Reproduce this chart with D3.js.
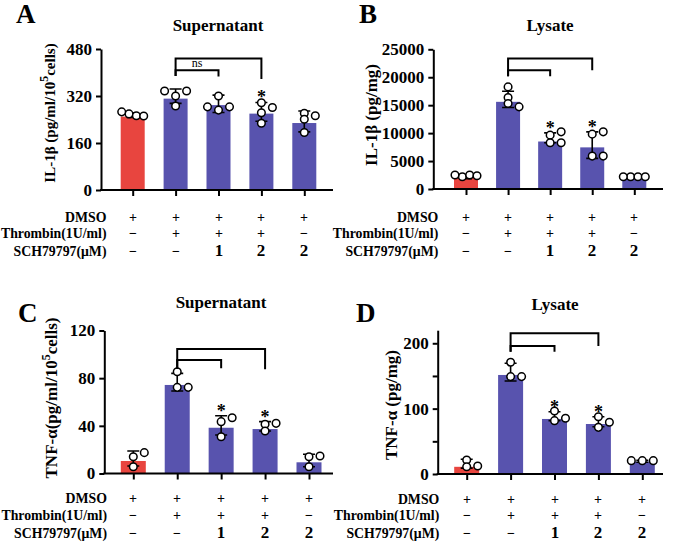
<!DOCTYPE html>
<html><head><meta charset="utf-8">
<script src="https://cdn.jsdelivr.net/npm/d3@7"></script>
<style>
body{margin:0;background:#fff}
svg{display:block}
text{font-family:"Liberation Serif","Times New Roman",serif;font-weight:bold;fill:#000}
</style>
</head><body><svg id="c" width="673" height="542"></svg>
<script>
// ---------- data ----------
const groups = ["G1","G2","G3","G4","G5"];
const rowLabels = ["DMSO","Thrombin(1U/ml)","SCH79797(μM)"];
const dmsoRow = ["+","+","+","+","+"];
const thrombinRow = ["−","+","+","+","−"];
const schRow = ["−","−","1","2","2"];

// A: IL-1β supernatant
const aBars = [250, 311, 289, 260, 228];
const aErrLow = [247, 295, 264, 234, 198];
const aErrHigh = [263, 344, 323, 298, 269];
const aPoints = [[259,253,266,252],[320,286,337,337],[320,272,283,283],[297,281,263,227],[261,253,241,196]];
const aStars = ["","","","*",""];
const aTicks = [0,160,320,480];
const aBrackets = [{from:1,to:3,top:448,lb:388,rb:378,label:""},{from:1,to:2,top:408,lb:388,rb:386,label:"ns"}];

// B: IL-1β lysate
const bBars = [2020, 15600, 8500, 7450, 2100];
const bErrLow = [1850, 14590, 8270, 5480, 2000];
const bErrHigh = [2400, 17500, 10050, 10230, 2300];
const bPoints = [[2200,2500,2500,2380],[18270,16380,15300,14700],[9640,10230,8270,8270],[9820,10230,5890,5890],[2200,2200,2200,2200]];
const bStars = ["","","*","*",""];
const bTicks = [0,5000,10000,15000,20000,25000];
const bBrackets = [{from:1,to:3,top:23340,lb:20180,rb:21250,label:""},{from:1,to:2,top:21250,lb:20180,rb:20180,label:""}];

// C: TNF-α supernatant
const cBars = [10.5, 74.3, 38.4, 37.3, 9.4];
const cErrLow = [6.3, 69.2, 32.3, 35.7, 5.7];
const cErrHigh = [18.9, 84, 48.5, 43.5, 16.1];
const cPoints = [[14.1,17.5,5.7],[85.4,72.3,72.3],[43.5,46.8,30.9],[41.3,42.1,35.7],[14.1,14.7,5.7]];
const cStars = ["","","*","*",""];
const cTicks = [0,40,80,120];
const cBrackets = [{from:1,to:3,top:104.5,lb:87.7,rb:87.4,label:""},{from:1,to:2,top:95.2,lb:87.7,rb:88.3,label:""}];

// D: TNF-α lysate
const dBars = [11, 151.5, 84.2, 76.5, 19];
const dErrLow = [9, 142.3, 81.6, 72.4, 18];
const dErrHigh = [22.5, 169.4, 95.3, 87.7, 21];
const dPoints = [[21.4,11.2,12.2],[171,149,149],[96.4,81.6,85.2],[87.7,71.4,79.1],[20.4,20.4,20.4]];
const dStars = ["","","*","*",""];
const dTicks = [0,50,100,150,200];
const dTickLabels = [0,100,200];
const dBrackets = [{from:1,to:3,top:215.3,lb:187.1,rb:195.8,label:""},{from:1,to:2,top:195.8,lb:187.1,rb:187.1,label:""}];

// ---------- drawing ----------
const svg = d3.select("#c");
const RED = "#e8453f", BLUE = "#5853ae";

function layoutPoints(vals, y, s, thr){
  const placed = [];
  const order = [0,1,-1,2,-2,3,-3];
  vals.forEach(v=>{
    const py = y(v);
    const slot = order.find(sl=>placed.every(p=>p.slot!==sl || Math.abs(p.py-py)>=thr));
    placed.push({v, py, slot});
  });
  const mn = d3.min(placed,p=>p.slot), mx = d3.max(placed,p=>p.slot);
  let shift = 0, scale = 1;
  if (mx-mn > 2){ shift = -(mn+mx)/2; scale = 2/(mx-mn); }
  return placed.map(p=>({py:p.py, dx:(p.slot+shift)*scale*s}));
}

function panel(cfg){
  const g = svg.append("g");
  const x = d3.scalePoint().domain(groups).range(cfg.cx);
  const y = d3.scaleLinear().domain([0,cfg.max]).range([cfg.y0, cfg.yTop]);
  const cx = i => x(groups[i]);

  // bars
  g.selectAll("rect.bar").data(cfg.bars).join("rect").attr("class","bar")
    .attr("x",(d,i)=>cx(i)-cfg.bw/2).attr("y",d=>y(d))
    .attr("width",cfg.bw).attr("height",d=>y(0)-y(d))
    .attr("fill",(d,i)=>i===0?RED:BLUE);

  // error bars
  const eb = g.append("g").attr("stroke","#000").attr("stroke-width",1.6).attr("fill","none");
  cfg.bars.forEach((d,i)=>{
    const lo = y(cfg.lo[i]), hi = y(cfg.hi[i]), c = cx(i);
    eb.append("path").attr("d",`M${c},${lo}V${hi}M${c-6},${hi}H${c+6}M${c-6},${lo}H${c+6}`);
  });

  // points
  cfg.points.forEach((vals,i)=>{
    const pts = layoutPoints(vals, y, 11, 5.5);
    g.selectAll(null).data(pts).join("circle")
      .attr("cx",p=>cx(i)+p.dx).attr("cy",p=>p.py).attr("r",3.8)
      .attr("fill","#fff").attr("stroke","#000").attr("stroke-width",1.5);
  });

  // stars
  g.selectAll("text.star").data(cfg.stars).join("text").attr("class","star")
    .attr("x",(d,i)=>cx(i)).attr("y",(d,i)=>y(cfg.hi[i])+1)
    .attr("text-anchor","middle").attr("font-size",18).text(d=>d);

  // brackets
  cfg.brackets.forEach(b=>{
    const x1 = cx(b.from), x2 = cx(b.to);
    g.append("path").attr("fill","none").attr("stroke","#000").attr("stroke-width",2)
      .attr("d",`M${x1},${y(b.lb)}V${y(b.top)}H${x2}V${y(b.rb)}`);
    if (b.label) g.append("text").attr("x",(x1+x2)/2).attr("y",y(b.top)-3.5)
      .attr("text-anchor","middle").attr("font-size",12).style("font-weight","normal").text(b.label);
  });

  // y axis
  const ya = g.append("g").attr("transform",`translate(${cfg.axisX},0)`)
    .call(d3.axisLeft(y).tickValues(cfg.ticks).tickSize(5).tickSizeOuter(0).tickPadding(4)
      .tickFormat(d=>cfg.tickLabels.includes(d)?d:""));
  ya.attr("font-size",17);
  ya.selectAll("path,line").attr("stroke","#000").attr("stroke-width",2);

  // x axis
  const xa = g.append("g").attr("transform",`translate(0,${cfg.y0})`)
    .call(d3.axisBottom(x).tickSize(6).tickFormat(""));
  xa.select(".domain").remove();
  xa.selectAll("line").attr("stroke","#000").attr("stroke-width",2);
  g.append("line").attr("x1",cfg.axisX-1).attr("x2",cfg.axisRight).attr("y1",cfg.y0).attr("y2",cfg.y0)
    .attr("stroke","#000").attr("stroke-width",2);

  // title, letter
  g.append("text").attr("x",cfg.title[1]).attr("y",cfg.title[2]).attr("text-anchor","middle")
    .attr("font-size",17).text(cfg.title[0]);
  g.append("text").attr("x",cfg.letter[1]).attr("y",cfg.letter[2]).attr("font-size",27).text(cfg.letter[0]);

  // y label
  const yl = g.append("text").attr("text-anchor","middle").attr("font-size",cfg.ylabSize)
    .attr("transform",`translate(${cfg.ylab[0]},${cfg.ylab[1]}) rotate(-90)`);
  cfg.ylabel.forEach(part=>{
    const t = yl.append("tspan").text(part.t);
    if (part.sup) t.attr("font-size",12).attr("dy",-7);
    else if (part.after) t.attr("dy",7);
  });

  // rows below
  const rows = [dmsoRow, thrombinRow, schRow];
  rows.forEach((row,r)=>{
    g.append("text").attr("x",cfg.rowRight).attr("y",cfg.rowY[r]).attr("text-anchor","end")
      .attr("font-size",13.8).style("fill","#000").text(rowLabels[r]);
    g.selectAll(null).data(row).join("text")
      .attr("x",(d,i)=>Math.round(cx(i))).attr("y",cfg.rowY[r]).attr("text-anchor","middle")
      .attr("font-size",d=>(d==="1"||d==="2")?17:14).style("fill","#000").text(d=>d);
  });
}

panel({bars:aBars, lo:aErrLow, hi:aErrHigh, points:aPoints, stars:aStars, brackets:aBrackets,
  ticks:aTicks, tickLabels:aTicks, max:480, y0:190, yTop:49, cx:[132.7,304.3], bw:24,
  axisX:101, axisRight:333, title:["Supernatant",218,31], letter:["A",16,23],
  ylab:[55,113], ylabSize:15, ylabel:[{t:"IL-1β (pg/ml/10"},{t:"5",sup:true},{t:"cells)",after:true}],
  rowRight:106.5, rowY:[221.7,237.7,256]});

panel({bars:bBars, lo:bErrLow, hi:bErrHigh, points:bPoints, stars:bStars, brackets:bBrackets,
  ticks:bTicks, tickLabels:bTicks, max:25000, y0:189, yTop:49.3, cx:[466,634.3], bw:24,
  axisX:433.3, axisRight:663, title:["Lysate",550,31], letter:["B",359,23],
  ylab:[377,115], ylabSize:17, ylabel:[{t:"IL-1β (pg/mg)"}],
  rowRight:438.3, rowY:[221.7,237.7,256]});

panel({bars:cBars, lo:cErrLow, hi:cErrHigh, points:cPoints, stars:cStars, brackets:cBrackets,
  ticks:cTicks, tickLabels:cTicks, max:120, y0:473.5, yTop:330.5, cx:[133.3,309], bw:25,
  axisX:104.3, axisRight:333, title:["Supernatant",221,308], letter:["C",18,322],
  ylab:[57,398], ylabSize:17, ylabel:[{t:"TNF-α(pg/ml/10"},{t:"5",sup:true},{t:"cells)",after:true}],
  rowRight:107, rowY:[503.3,520,538]});

panel({bars:dBars, lo:dErrLow, hi:dErrHigh, points:dPoints, stars:dStars, brackets:dBrackets,
  ticks:dTicks, tickLabels:dTickLabels, max:220, y0:474, yTop:330.2, cx:[466.7,642.3], bw:25,
  axisX:437.7, axisRight:663, title:["Lysate",555,310], letter:["D",356,322],
  ylab:[397,405], ylabSize:17, ylabel:[{t:"TNF-α (pg/mg)"}],
  rowRight:439.3, rowY:[504,520,538]});
</script>
</body></html>
